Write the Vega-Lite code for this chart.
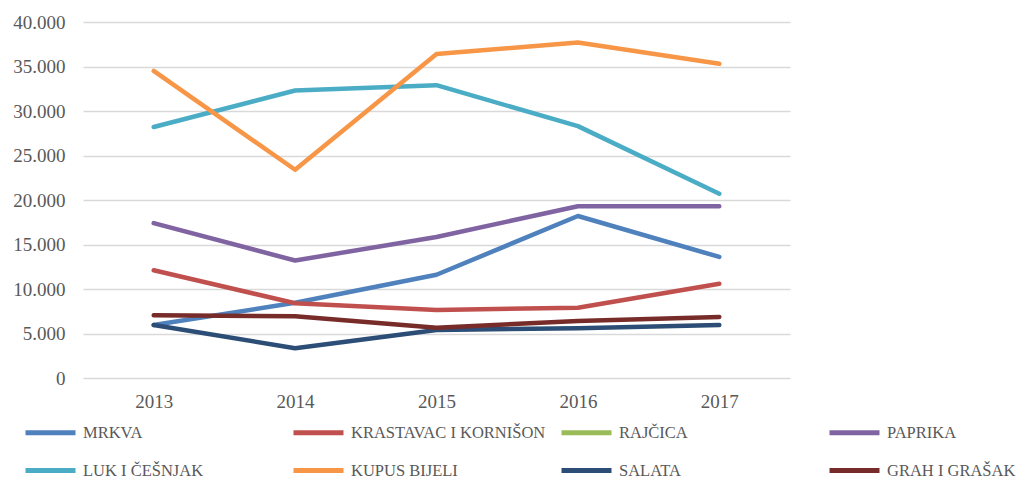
{
  "$schema": "https://vega.github.io/schema/vega-lite/v6.json",
  "width": 707,
  "height": 356,
  "autosize": {"type": "none"},
  "padding": {"left": 83, "top": 22, "right": 227, "bottom": 100},
  "background": "white",
  "config": {
    "view": {"stroke": null},
    "font": "Liberation Serif",
    "axis": {"labelFont": "Liberation Serif", "labelColor": "#595959", "gridColor": "#D9D9D9", "gridWidth": 1.5, "domain": false, "ticks": false, "title": null}
  },
  "data": {
    "values": [
      {"year": "2013", "kultura": "MRKVA", "v": 5950},
      {"year": "2014", "kultura": "MRKVA", "v": 8450},
      {"year": "2015", "kultura": "MRKVA", "v": 11600},
      {"year": "2016", "kultura": "MRKVA", "v": 18200},
      {"year": "2017", "kultura": "MRKVA", "v": 13600},
      {"year": "2013", "kultura": "KRASTAVAC I KORNIŠON", "v": 12100},
      {"year": "2014", "kultura": "KRASTAVAC I KORNIŠON", "v": 8400},
      {"year": "2015", "kultura": "KRASTAVAC I KORNIŠON", "v": 7650},
      {"year": "2016", "kultura": "KRASTAVAC I KORNIŠON", "v": 7900},
      {"year": "2017", "kultura": "KRASTAVAC I KORNIŠON", "v": 10600},
      {"year": "2013", "kultura": "PAPRIKA", "v": 17400},
      {"year": "2014", "kultura": "PAPRIKA", "v": 13200},
      {"year": "2015", "kultura": "PAPRIKA", "v": 15850},
      {"year": "2016", "kultura": "PAPRIKA", "v": 19300},
      {"year": "2017", "kultura": "PAPRIKA", "v": 19300},
      {"year": "2013", "kultura": "LUK I ČEŠNJAK", "v": 28200},
      {"year": "2014", "kultura": "LUK I ČEŠNJAK", "v": 32300},
      {"year": "2015", "kultura": "LUK I ČEŠNJAK", "v": 32900},
      {"year": "2016", "kultura": "LUK I ČEŠNJAK", "v": 28300},
      {"year": "2017", "kultura": "LUK I ČEŠNJAK", "v": 20700},
      {"year": "2013", "kultura": "KUPUS BIJELI", "v": 34500},
      {"year": "2014", "kultura": "KUPUS BIJELI", "v": 23400},
      {"year": "2015", "kultura": "KUPUS BIJELI", "v": 36400},
      {"year": "2016", "kultura": "KUPUS BIJELI", "v": 37700},
      {"year": "2017", "kultura": "KUPUS BIJELI", "v": 35300},
      {"year": "2013", "kultura": "SALATA", "v": 5950},
      {"year": "2014", "kultura": "SALATA", "v": 3350},
      {"year": "2015", "kultura": "SALATA", "v": 5400},
      {"year": "2016", "kultura": "SALATA", "v": 5600},
      {"year": "2017", "kultura": "SALATA", "v": 5950},
      {"year": "2013", "kultura": "GRAH I GRAŠAK", "v": 7050},
      {"year": "2014", "kultura": "GRAH I GRAŠAK", "v": 6950},
      {"year": "2015", "kultura": "GRAH I GRAŠAK", "v": 5650},
      {"year": "2016", "kultura": "GRAH I GRAŠAK", "v": 6400},
      {"year": "2017", "kultura": "GRAH I GRAŠAK", "v": 6850}
    ]
  },
  "mark": {"type": "line", "strokeWidth": 4.5, "strokeCap": "round", "strokeJoin": "round"},
  "encoding": {
    "x": {
      "field": "year", "type": "ordinal",
      "scale": {"type": "point", "padding": 0.5},
      "axis": {"grid": false, "labelAngle": 0, "labelFontSize": 19, "labelPadding": 14}
    },
    "y": {
      "field": "v", "type": "quantitative",
      "scale": {"domain": [0, 40000], "nice": false},
      "axis": {"values": [0, 5000, 10000, 15000, 20000, 25000, 30000, 35000, 40000], "labelExpr": "replace(format(datum.value, ','), /,/g, '.')", "labelFontSize": 19, "labelPadding": 18}
    },
    "color": {
      "field": "kultura", "type": "nominal",
      "scale": {
        "domain": ["MRKVA", "KRASTAVAC I KORNIŠON", "RAJČICA", "PAPRIKA", "LUK I ČEŠNJAK", "KUPUS BIJELI", "SALATA", "GRAH I GRAŠAK"],
        "range": ["#4F81BD", "#C0504D", "#9BBB59", "#8064A2", "#4BACC6", "#F79646", "#2C4D75", "#772C2A"]
      },
      "legend": {
        "title": null,
        "orient": "none",
        "legendX": -60,
        "legendY": 383,
        "direction": "horizontal",
        "columns": 4,
        "gridAlign": "all",
        "columnPadding": 5,
        "rowPadding": -20,
        "symbolType": "stroke",
        "symbolSize": 2500,
        "symbolStrokeWidth": 5,
        "labelFont": "Liberation Serif",
        "labelFontSize": 16.5,
        "labelColor": "#595959",
        "labelOffset": 5,
        "labelLimit": 400
      }
    }
  }
}
